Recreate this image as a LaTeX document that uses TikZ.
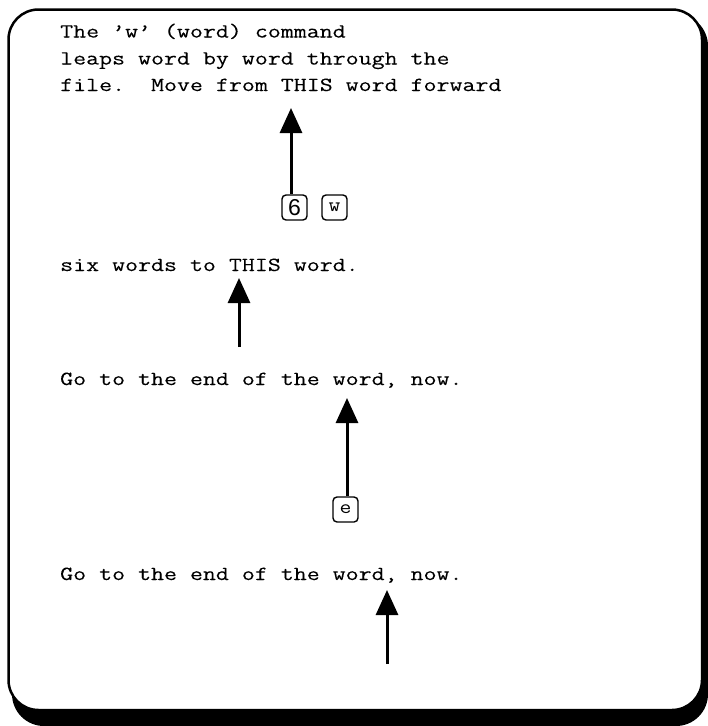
\documentclass[tikz,border=0pt]{standalone}
\usepackage{fontspec}
\newfontfamily\tw{Latin Modern Mono}[FakeStretch=1.26,FakeBold=0.1]
\newfontfamily\twk{Latin Modern Mono}[FakeStretch=1.15]
\newfontfamily\keysans{Liberation Sans}
\usetikzlibrary{arrows.meta}
\begin{document}
\begin{tikzpicture}[x=1pt,y=-1pt,
  txt/.style={anchor=base west, inner sep=0pt, font=\tw\fontsize{20}{24}\selectfont\frenchspacing},
  keybox/.style={draw, line width=1.4pt, rounded corners=4pt, minimum size=25pt, inner sep=0pt},
  ptr/.style={line width=3pt, -{Triangle[width=22pt,length=25pt]}}]
\useasboundingbox (0,0) rectangle (708,726);
% frame with shadow
\fill[rounded corners=32pt] (12,14) rectangle (708,726);
\filldraw[fill=white, draw=black, line width=2.5pt, rounded corners=30pt] (8.5,9.5) rectangle (702,710);
% text lines
\node[txt] (l1) at (60,37.5) {The ’w’ (word) command};
\node[txt] (l2) at (60,64.5) {leaps word by word through the};
\node[txt] (l3) at (60,91) {file.\ \ Move from THIS word forward};
\node[txt] (l4) at (60,271) {six words to THIS word.};
\node[txt] (l5) at (60,385) {Go to the end of the word, now.};
\node[txt] (l6) at (60,580) {Go to the end of the word, now.};
% keys
\node[keybox] (k6) at (294.5,207.5) {\keysans\fontsize{23}{23}\selectfont 6};
\node[keybox] (kw) at (334.5,207.5) {\twk\fontsize{20}{20}\selectfont w};
\node[keybox] (ke) at (345.5,509.5) {\twk\fontsize{20}{20}\selectfont e};
% arrow coordinates
\coordinate (t1) at (291,108);
\coordinate (t2) at (239,278);
\coordinate (s2) at (239,347);
\coordinate (t3) at (347,398);
\coordinate (t4) at (387,590);
\coordinate (s4) at (387,664);
% arrows
\draw[ptr] (k6.north -| t1) -- (t1);
\draw[ptr] (s2) -- (t2);
\draw[ptr] (ke.north -| t3) -- (t3);
\draw[ptr] (s4) -- (t4);
\end{tikzpicture}
\end{document}
